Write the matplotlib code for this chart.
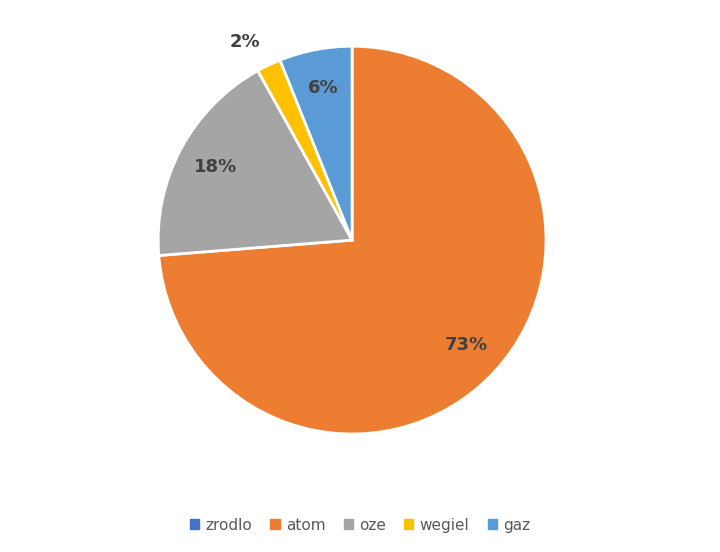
import matplotlib.pyplot as plt
from matplotlib.patches import Patch

labels = ["zrodlo", "atom", "oze", "wegiel", "gaz"]
values = [0, 73, 18, 2, 6]
colors = ["#4472C4", "#ED7D31", "#A5A5A5", "#FFC000", "#5B9BD5"]

fig = plt.figure(figsize=(7.2, 5.52), dpi=100)
ax = fig.add_axes([0.489 - 0.272, 0.565 - 0.355, 0.544, 0.71])

vals = [v for v in values if v > 0]
cols = [c for v, c in zip(values, colors) if v > 0]
wedges, texts, autotexts = ax.pie(vals, colors=cols, startangle=90, counterclock=False,
                                  autopct="%d%%", pctdistance=0.8,
                                  wedgeprops=dict(edgecolor="white", linewidth=2))
for t in autotexts:
    t.set_fontsize(13)
    t.set_fontweight("bold")
    t.set_color("#404040")
# small slice label sits outside
autotexts[2].set_position((-0.55, 1.02))
autotexts[2].set_horizontalalignment("center")
ax.set_xlim(-1.01, 1.01)
ax.set_ylim(-1.01, 1.01)
ax.set_aspect("equal")

handles = [Patch(color=c) for c in colors]
fig.legend(handles, labels, loc="lower center", ncol=5, frameon=False,
           bbox_to_anchor=(0.5, 0.01), fontsize=11, handlelength=0.6, handleheight=0.6,
           columnspacing=1.2, handletextpad=0.4, labelcolor="#595959")
fig.savefig("out.png")
